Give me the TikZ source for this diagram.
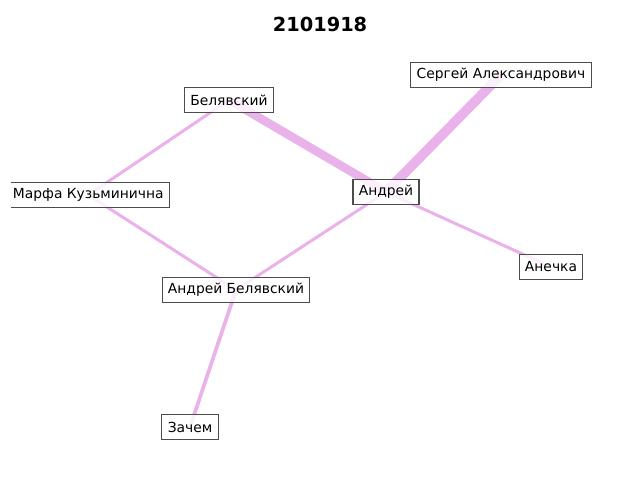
\documentclass[tikz,border=0pt]{standalone}
\usepackage{fontspec}
\setmainfont{DejaVu Sans}
\usetikzlibrary{backgrounds}
\tikzset{>=stealth}
\definecolor{tiecol}{RGB}{234,178,234}
\tikzset{
  person/.style={draw=black!70, line width=0.8pt, fill=white, fill opacity=0.8,
    text opacity=1, font=\fontsize{10}{12}\selectfont, inner xsep=4.2pt,
    minimum height=17.6pt},
  tie/.style={draw=tiecol, line width=#1},
  tie/.default=2.2pt
}

\begin{document}
\begin{tikzpicture}[x=0.01in,y=-0.01in]
          \useasboundingbox (0,0) rectangle (640,480);
          \node[font=\bfseries\fontsize{14}{17}\selectfont] (title) at (320,24) {2101918};
          \begin{scope}
          \clip (11,0) rectangle (640,480);
          \node[person] (bel) at (229,100) {Белявский};
          \node[person] (ser) at (501,75) {Сергей Александрович};
          \node[person] (and) at (386,192) {Андрей};
          \node[person, anchor=east] (mar) at (170,195) {Марфа Кузьминична};
          \node[person] (anb) at (236,290) {Андрей Белявский};
          \node[person] (ane) at (551,267) {Анечка};
          \node[person] (zac) at (190,427) {Зачем};
          \end{scope}
          \begin{pgfonlayer}{background}
          \draw[tie] (bel.center)--(mar.center);
          \draw[tie=6.2pt] (bel.center)--(and.center);
          \draw[tie=7pt] (and.center)--(ser.center);
          \draw[tie] (and.center)--(ane.center);
          \draw[tie] (and.center)--(anb.center);
          \draw[tie] (mar.center)--(anb.center);
          \draw[tie=2.7pt] (anb.center)--(zac.center);
          \end{pgfonlayer}
        \end{tikzpicture}
\end{document}
